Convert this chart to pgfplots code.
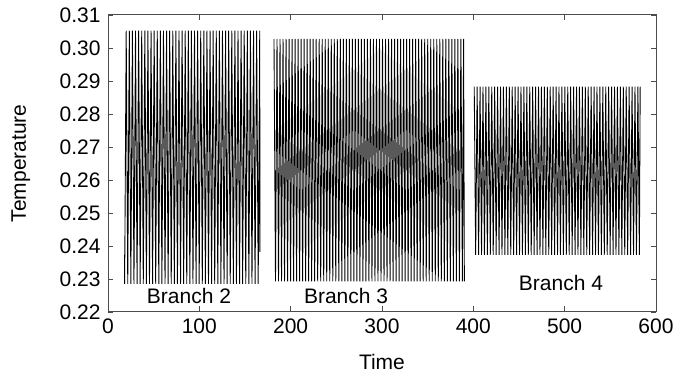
\documentclass[border=0pt]{standalone}
\usepackage{pgfplots}
\pgfplotsset{compat=1.18}
\usepackage{fontspec}
\setmainfont{Liberation Sans}
\begin{document}
\begin{tikzpicture}
\begin{axis}[
  scale only axis,
  width=261pt, height=141.4pt,
  xmin=0, xmax=600, ymin=0.22, ymax=0.31,
  xtick={0,100,...,600},
  ytick={0.22,0.23,0.24,0.25,0.26,0.27,0.28,0.29,0.30,0.31},
  tick align=inside,
  major tick length=2.6pt,
  axis line style={black!70},
  tick style={black!70},
  /pgf/number format/assume math mode=true,
  yticklabel style={/pgf/number format/.cd, fixed, fixed zerofill, precision=2},
  xticklabel style={/pgf/number format/.cd, fixed},
  scaled y ticks=false,
  xlabel={Time}, ylabel={Temperature},
  every axis x label/.style={at={(axis description cs:0.5,-0.168)}, anchor=center},
  every axis y label/.style={at={(axis description cs:-0.159,0.5)}, rotate=90, anchor=center},
  clip=false,
]
\addplot[black, line width=0.42pt] coordinates {
(18.2,0.2373)
(18.3,0.2285) (20.0,0.3052) (21.7,0.2285) (23.4,0.3052) (25.1,0.2285) (26.8,0.3052)
(28.5,0.2285) (30.2,0.3052) (31.9,0.2285) (33.6,0.3052) (35.3,0.2285) (37.0,0.3052)
(38.7,0.2285) (40.4,0.3052) (42.1,0.2285) (43.8,0.3052) (45.5,0.2285) (47.2,0.3052)
(48.9,0.2285) (50.6,0.3052) (52.3,0.2285) (54.0,0.3052) (55.7,0.2285) (57.4,0.3052)
(59.1,0.2285) (60.8,0.3052) (62.5,0.2285) (64.2,0.3052) (65.9,0.2285) (67.6,0.3052)
(69.3,0.2285) (71.0,0.3052) (72.7,0.2285) (74.4,0.3052) (76.1,0.2285) (77.8,0.3052)
(79.5,0.2285) (81.2,0.3052) (82.9,0.2285) (84.6,0.3052) (86.3,0.2285) (88.0,0.3052)
(89.7,0.2285) (91.4,0.3052) (93.1,0.2285) (94.8,0.3052) (96.5,0.2285) (98.2,0.3052)
(99.9,0.2285) (101.6,0.3052) (103.3,0.2285) (105.0,0.3052) (106.7,0.2285) (108.4,0.3052)
(110.1,0.2285) (111.8,0.3052) (113.5,0.2285) (115.2,0.3052) (116.9,0.2285) (118.6,0.3052)
(120.3,0.2285) (122.0,0.3052) (123.7,0.2285) (125.4,0.3052) (127.1,0.2285) (128.8,0.3052)
(130.5,0.2285) (132.2,0.3052) (133.9,0.2285) (135.6,0.3052) (137.3,0.2285) (139.0,0.3052)
(140.7,0.2285) (142.4,0.3052) (144.1,0.2285) (145.8,0.3052) (147.5,0.2285) (149.2,0.3052)
(150.9,0.2285) (152.6,0.3052) (154.3,0.2285) (156.0,0.3052) (157.7,0.2285) (159.4,0.3052)
(161.1,0.2285) (162.8,0.3052) (164.5,0.2285) (166.2,0.3052)
(166.4,0.2382)
};
\addplot[black, line width=0.42pt] coordinates {
(181.8,0.3027) (183.45,0.2292) (185.1,0.3027) (186.75,0.2292) (188.4,0.3027) (190.05,0.2292)
(191.7,0.3027) (193.35,0.2292) (195.0,0.3027) (196.65,0.2292) (198.3,0.3027) (199.95,0.2292)
(201.6,0.3027) (203.25,0.2292) (204.9,0.3027) (206.55,0.2292) (208.2,0.3027) (209.85,0.2292)
(211.5,0.3027) (213.15,0.2292) (214.8,0.3027) (216.45,0.2292) (218.1,0.3027) (219.75,0.2292)
(221.4,0.3027) (223.05,0.2292) (224.7,0.3027) (226.35,0.2292) (228.0,0.3027) (229.65,0.2292)
(231.3,0.3027) (232.95,0.2292) (234.6,0.3027) (236.25,0.2292) (237.9,0.3027) (239.55,0.2292)
(241.2,0.3027) (242.85,0.2292) (244.5,0.3027) (246.15,0.2292) (247.8,0.3027) (249.45,0.2292)
(251.1,0.3027) (252.75,0.2292) (254.4,0.3027) (256.05,0.2292) (257.7,0.3027) (259.35,0.2292)
(261.0,0.3027) (262.65,0.2292) (264.3,0.3027) (265.95,0.2292) (267.6,0.3027) (269.25,0.2292)
(270.9,0.3027) (272.55,0.2292) (274.2,0.3027) (275.85,0.2292) (277.5,0.3027) (279.15,0.2292)
(280.8,0.3027) (282.45,0.2292) (284.1,0.3027) (285.75,0.2292) (287.4,0.3027) (289.05,0.2292)
(290.7,0.3027) (292.35,0.2292) (294.0,0.3027) (295.65,0.2292) (297.3,0.3027) (298.95,0.2292)
(300.6,0.3027) (302.25,0.2292) (303.9,0.3027) (305.55,0.2292) (307.2,0.3027) (308.85,0.2292)
(310.5,0.3027) (312.15,0.2292) (313.8,0.3027) (315.45,0.2292) (317.1,0.3027) (318.75,0.2292)
(320.4,0.3027) (322.05,0.2292) (323.7,0.3027) (325.35,0.2292) (327.0,0.3027) (328.65,0.2292)
(330.3,0.3027) (331.95,0.2292) (333.6,0.3027) (335.25,0.2292) (336.9,0.3027) (338.55,0.2292)
(340.2,0.3027) (341.85,0.2292) (343.5,0.3027) (345.15,0.2292) (346.8,0.3027) (348.45,0.2292)
(350.1,0.3027) (351.75,0.2292) (353.4,0.3027) (355.05,0.2292) (356.7,0.3027) (358.35,0.2292)
(360.0,0.3027) (361.65,0.2292) (363.3,0.3027) (364.95,0.2292) (366.6,0.3027) (368.25,0.2292)
(369.9,0.3027) (371.55,0.2292) (373.2,0.3027) (374.85,0.2292) (376.5,0.3027) (378.15,0.2292)
(379.8,0.3027) (381.45,0.2292) (383.1,0.3027) (384.75,0.2292) (386.4,0.3027) (388.05,0.2292)
(389.4,0.3027) (390.2,0.2292)
};
\addplot[black, line width=0.42pt] coordinates {
(401.0,0.2883) (402.6,0.2373) (404.2,0.2883) (405.8,0.2373) (407.4,0.2883) (409.0,0.2373)
(410.6,0.2883) (412.2,0.2373) (413.8,0.2883) (415.4,0.2373) (417.0,0.2883) (418.6,0.2373)
(420.2,0.2883) (421.8,0.2373) (423.4,0.2883) (425.0,0.2373) (426.6,0.2883) (428.2,0.2373)
(429.8,0.2883) (431.4,0.2373) (433.0,0.2883) (434.6,0.2373) (436.2,0.2883) (437.8,0.2373)
(439.4,0.2883) (441.0,0.2373) (442.6,0.2883) (444.2,0.2373) (445.8,0.2883) (447.4,0.2373)
(449.0,0.2883) (450.6,0.2373) (452.2,0.2883) (453.8,0.2373) (455.4,0.2883) (457.0,0.2373)
(458.6,0.2883) (460.2,0.2373) (461.8,0.2883) (463.4,0.2373) (465.0,0.2883) (466.6,0.2373)
(468.2,0.2883) (469.8,0.2373) (471.4,0.2883) (473.0,0.2373) (474.6,0.2883) (476.2,0.2373)
(477.8,0.2883) (479.4,0.2373) (481.0,0.2883) (482.6,0.2373) (484.2,0.2883) (485.8,0.2373)
(487.4,0.2883) (489.0,0.2373) (490.6,0.2883) (492.2,0.2373) (493.8,0.2883) (495.4,0.2373)
(497.0,0.2883) (498.6,0.2373) (500.2,0.2883) (501.8,0.2373) (503.4,0.2883) (505.0,0.2373)
(506.6,0.2883) (508.2,0.2373) (509.8,0.2883) (511.4,0.2373) (513.0,0.2883) (514.6,0.2373)
(516.2,0.2883) (517.8,0.2373) (519.4,0.2883) (521.0,0.2373) (522.6,0.2883) (524.2,0.2373)
(525.8,0.2883) (527.4,0.2373) (529.0,0.2883) (530.6,0.2373) (532.2,0.2883) (533.8,0.2373)
(535.4,0.2883) (537.0,0.2373) (538.6,0.2883) (540.2,0.2373) (541.8,0.2883) (543.4,0.2373)
(545.0,0.2883) (546.6,0.2373) (548.2,0.2883) (549.8,0.2373) (551.4,0.2883) (553.0,0.2373)
(554.6,0.2883) (556.2,0.2373) (557.8,0.2883) (559.4,0.2373) (561.0,0.2883) (562.6,0.2373)
(564.2,0.2883) (565.8,0.2373) (567.4,0.2883) (569.0,0.2373) (570.6,0.2883) (572.2,0.2373)
(573.8,0.2883) (575.4,0.2373) (577.0,0.2883) (578.6,0.2373) (580.2,0.2883) (581.8,0.2373)
(582.7,0.2883)
};
\node[anchor=center] at (axis cs:88.7,0.2248) {Branch 2};
\node[anchor=center] at (axis cs:260.7,0.2248) {Branch 3};
\node[anchor=center] at (axis cs:496,0.2288) {Branch 4};
\end{axis}
\pgfresetboundingbox
\useasboundingbox ([shift={(-51.4pt,-30.5pt)}]current axis.south west) rectangle ([shift={(8.1pt,7.1pt)}]current axis.north east);
\end{tikzpicture}
\end{document}
